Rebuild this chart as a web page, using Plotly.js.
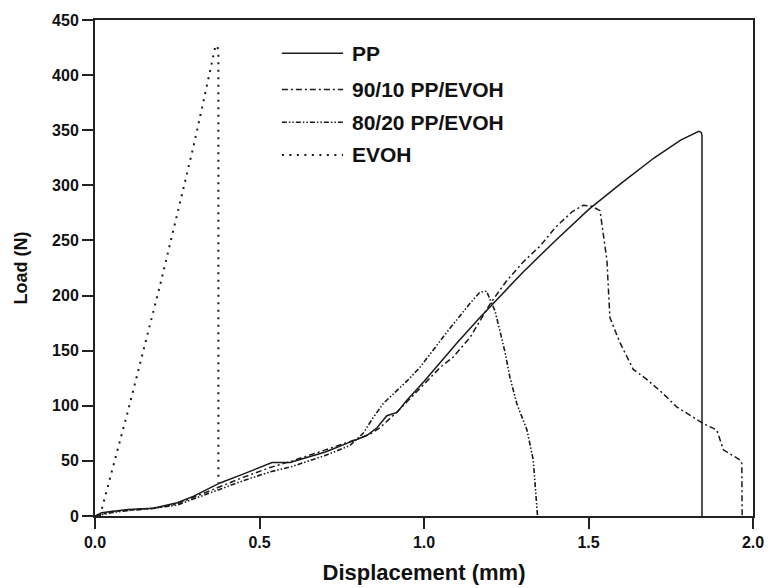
<!DOCTYPE html>
<html>
<head>
<meta charset="utf-8">
<script src="https://cdn.plot.ly/plotly-3.0.1.min.js"></script>
<style>html,body{margin:0;padding:0;background:#fff;}#chart{width:769px;height:588px;}</style>
</head>
<body>
<div id="chart"></div>
<script>
// Series names
const seriesNames = ["PP", "90/10 PP/EVOH", "80/20 PP/EVOH", "EVOH"];

// PP
const ppX = [0, 0.02, 0.05, 0.1, 0.177, 0.25, 0.3, 0.38, 0.45, 0.538, 0.593, 0.7, 0.775, 0.826, 0.857, 0.887, 0.918, 0.948, 1.0, 1.049, 1.1, 1.17, 1.23, 1.3, 1.4, 1.5, 1.6, 1.7, 1.78, 1.835, 1.843, 1.845, 1.845];
const ppY = [0, 3, 4, 6, 7, 12, 18, 30, 38, 48.5, 48.5, 58, 67, 73, 80, 91, 94, 105, 122, 139, 157, 180, 199, 221, 250, 278, 302, 325, 341, 349, 348, 345, 0];

// 90/10 PP/EVOH
const b90X = [0, 0.05, 0.1, 0.18, 0.25, 0.38, 0.45, 0.532, 0.6, 0.7, 0.8, 0.84, 0.866, 0.92, 1.0, 1.05, 1.088, 1.14, 1.2, 1.25, 1.3, 1.353, 1.4, 1.45, 1.484, 1.51, 1.535, 1.556, 1.565, 1.596, 1.636, 1.677, 1.727, 1.768, 1.848, 1.89, 1.91, 1.96, 1.966, 1.967];
const b90Y = [0, 4, 5, 7, 11, 27, 35, 44, 50, 60, 70, 75, 80, 95, 120, 135, 144, 162, 192, 213, 230, 245, 262, 276, 282, 281, 277, 232, 180, 157, 133, 124, 111, 99, 84, 78, 60, 51, 48, 0];

// 80/20 PP/EVOH
const b80X = [0, 0.05, 0.1, 0.18, 0.25, 0.38, 0.45, 0.532, 0.6, 0.7, 0.775, 0.815, 0.845, 0.876, 0.95, 0.988, 1.07, 1.14, 1.17, 1.19, 1.216, 1.246, 1.261, 1.282, 1.313, 1.332, 1.343, 1.345];
const b80Y = [0, 3, 5, 7, 10, 24, 32, 40, 45, 55, 64, 75, 89, 102, 123, 135, 167, 193, 203, 204, 186, 149, 126, 102, 78, 51, 5, 0];

// EVOH
const evX = [0.015, 0.025, 0.1, 0.2, 0.274, 0.3, 0.35, 0.365, 0.372, 0.375, 0.375];
const evY = [0, 11, 95, 212, 303, 336, 404, 425, 427, 420, 30];

// Axis ticks
const xTicks = [0, 0.5, 1.0, 1.5, 2.0];
const xTickText = ["0.0", "0.5", "1.0", "1.5", "2.0"];
const yTicks = [0, 50, 100, 150, 200, 250, 300, 350, 400, 450];

const dashes = ["solid", "6px,3px,2px,3px", "5px,2px,1.5px,2px,1.5px,2px", "2px,5.5px"];
const widths = [1.5, 1.5, 1.6, 2];
const lineColor = "#1a1a1a";
const xs = [ppX, b90X, b80X, evX];
const ys = [ppY, b90Y, b80Y, evY];

const traces = xs.map((x, i) => ({
  x: x, y: ys[i], type: "scatter", mode: "lines", name: seriesNames[i],
  line: {color: lineColor, width: widths[i], dash: dashes[i]},
  showlegend: false, hoverinfo: "skip"
}));

const font = {family: "Liberation Sans, Arial, sans-serif", color: "#111", weight: "bold"};

// Custom legend (paper coordinates)
const legY = [0.933, 0.86, 0.794, 0.728];
const shapes = legY.map((yy, i) => ({
  type: "line", xref: "paper", yref: "paper", x0: 0.284, x1: 0.377, y0: yy, y1: yy,
  line: {color: lineColor, width: widths[i], dash: dashes[i]}
}));
const annotations = legY.map((yy, i) => ({
  xref: "paper", yref: "paper", x: 0.388, y: yy, xanchor: "left", yanchor: "middle",
  text: seriesNames[i], showarrow: false,
  font: Object.assign({}, font, {size: 21})
}));

const layout = {
  width: 769, height: 588,
  margin: {l: 95, r: 16, t: 20, b: 72},
  paper_bgcolor: "#fff", plot_bgcolor: "#fff",
  showlegend: false,
  xaxis: {
    range: [0, 2.0], tickvals: xTicks, ticktext: xTickText,
    ticks: "outside", ticklen: 11, tickwidth: 2, tickcolor: "#222",
    showline: true, linewidth: 2, linecolor: "#222", mirror: true,
    showgrid: false, zeroline: false,
    tickfont: Object.assign({}, font, {size: 16}),
    title: {text: "Displacement (mm)", font: Object.assign({}, font, {size: 22}), standoff: 14}
  },
  yaxis: {
    range: [0, 450], tickvals: yTicks,
    ticks: "outside", ticklen: 11, tickwidth: 2, tickcolor: "#222",
    showline: true, linewidth: 2, linecolor: "#222", mirror: true,
    showgrid: false, zeroline: false,
    tickfont: Object.assign({}, font, {size: 16}),
    title: {text: "Load (N)", font: Object.assign({}, font, {size: 18}), standoff: 20}
  },
  shapes: shapes,
  annotations: annotations
};

Plotly.newPlot("chart", traces, layout, {displayModeBar: false, staticPlot: true});
</script>
</body>
</html>
